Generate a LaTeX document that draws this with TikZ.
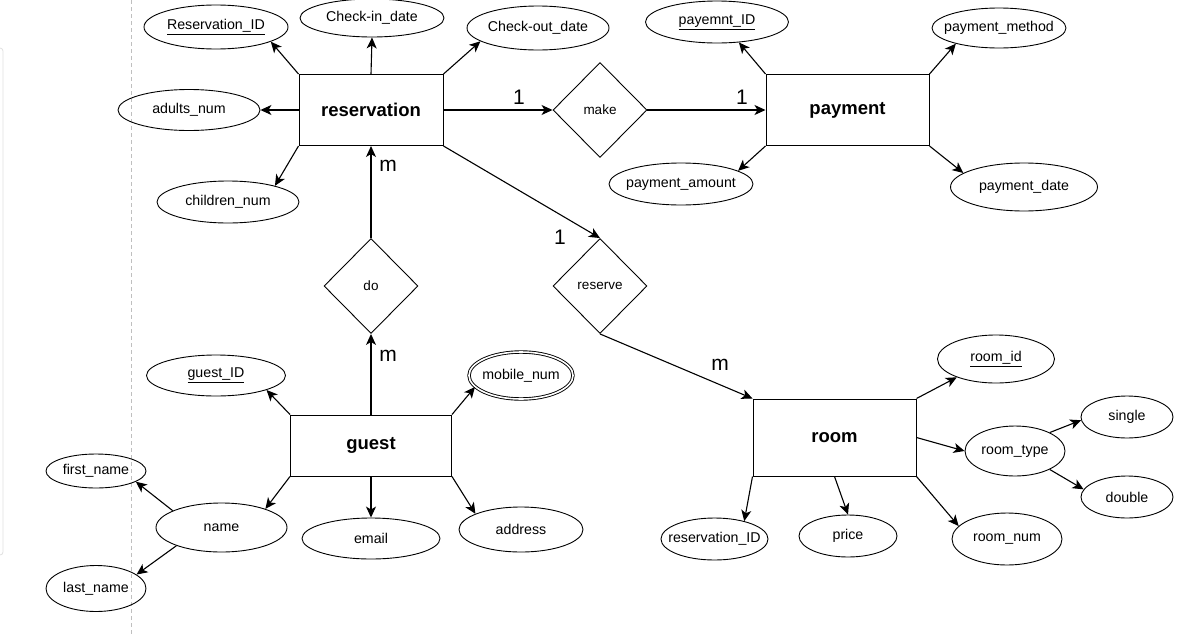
\documentclass[tikz,border=0pt]{standalone}
\usepackage{fontspec}
\setmainfont{Liberation Sans}
\usetikzlibrary{shapes.geometric,arrows.meta}
\begin{document}
\begin{tikzpicture}[x=1pt,y=-1pt,
 ent/.style={draw, line width=1pt, inner sep=0, font=\fontsize{18.5}{20}\selectfont\bfseries},
 attr/.style={ellipse, draw, line width=0.9pt, inner sep=0},
 lab/.style={font=\fontsize{14.2}{16}\selectfont},
 rel/.style={diamond, draw, line width=0.9pt, inner sep=0, minimum width=94pt, minimum height=95pt, font=\fontsize{13.5}{15}\selectfont},
 arr/.style={line width=1.1pt, -{Stealth[length=11pt,width=10pt,inset=3pt]}},
 card/.style={font=\fontsize{21}{24}\selectfont, inner sep=0}]
\useasboundingbox (0,0) rectangle (1178,635);
% background guides
\draw[gray!25, line width=0.8pt, rounded corners=3pt] (-10,48) -- (3,48) -- (3,555) -- (-10,555);
\draw[gray!50, line width=0.8pt, dash pattern=on 4pt off 3pt] (131,0) -- (131,635);
% entities
\node[ent, minimum width=144pt, minimum height=71pt] (res) at (371,110) {reservation};
\node[ent, minimum width=163pt, minimum height=71pt] (pay) at (847.5,110) {payment};
\node[ent, minimum width=161pt, minimum height=61pt] (guest) at (371,445.5) {guest};
\node[ent, minimum width=163pt, minimum height=77pt] (room) at (834.5,437.5) {room};
% relationships
\node[rel] (make) at (600,110) {make};
\node[rel] (do) at (371,286) {do};
\node[rel] (reserve) at (600,286) {reserve};
% attributes
\node[attr, minimum width=144pt, minimum height=44pt, label={[lab]center:\underline{Reservation\_ID}}] (resid) at (216,27) {};
\node[attr, minimum width=144pt, minimum height=38pt, label={[lab]center:Check-in\_date}] (checkin) at (372,18) {};
\node[attr, minimum width=142pt, minimum height=44pt, label={[lab]center:Check-out\_date}] (checkout) at (538,28) {};
\node[attr, minimum width=142pt, minimum height=41pt, label={[lab]center:adults\_num}] (adults) at (189,110) {};
\node[attr, minimum width=142pt, minimum height=42pt, label={[lab]center:children\_num}] (children) at (228,202) {};
\node[attr, minimum width=143pt, minimum height=42pt, label={[lab]center:\underline{payemnt\_ID}}] (payid) at (717,22) {};
\node[attr, minimum width=134pt, minimum height=40pt, label={[lab]center:payment\_method}] (paymethod) at (999,28) {};
\node[attr, minimum width=144pt, minimum height=42pt, label={[lab]center:payment\_amount}] (payamount) at (681,184) {};
\node[attr, minimum width=147pt, minimum height=48pt, label={[lab]center:payment\_date}] (paydate) at (1024,187) {};
\node[attr, minimum width=139pt, minimum height=41pt, label={[lab]center:\underline{guest\_ID}}] (guestid) at (216,375.5) {};
\node[attr, minimum width=104pt, minimum height=47pt, double, double distance=1.6pt, label={[lab]center:mobile\_num}] (mobile) at (521,375.5) {};
\node[attr, minimum width=100pt, minimum height=34pt, label={[lab]center:first\_name}] (firstn) at (96,471) {};
\node[attr, minimum width=131pt, minimum height=49pt, label={[lab]center:name}] (name) at (221.5,527.5) {};
\node[attr, minimum width=100pt, minimum height=46pt, label={[lab]center:last\_name}] (lastn) at (96,588.5) {};
\node[attr, minimum width=138pt, minimum height=41pt, label={[lab]center:email}] (email) at (371,538.5) {};
\node[attr, minimum width=124pt, minimum height=45pt, label={[lab]center:address}] (address) at (521,529.5) {};
\node[attr, minimum width=117pt, minimum height=48pt, label={[lab]center:\underline{room\_id}}] (roomid) at (996,359) {};
\node[attr, minimum width=92pt, minimum height=42pt, label={[lab]center:single}] (single) at (1127,417) {};
\node[attr, minimum width=100pt, minimum height=50pt, label={[lab]center:room\_type}] (roomtype) at (1015,451) {};
\node[attr, minimum width=92pt, minimum height=42pt, label={[lab]center:double}] (double) at (1127,497) {};
\node[attr, minimum width=107pt, minimum height=42pt, label={[lab]center:reservation\_ID}] (rresid) at (714.5,539) {};
\node[attr, minimum width=98pt, minimum height=42pt, label={[lab]center:price}] (price) at (848,536) {};
\node[attr, minimum width=110pt, minimum height=52pt, label={[lab]center:room\_num}] (roomnum) at (1007,539) {};
% reservation attributes
\draw[arr] (res.north west) -- (resid.-15);
\draw[arr] (res.north) -- (checkin.south);
\draw[arr] (res.north east) -- (checkout.-167);
\draw[arr] (res.west) -- (adults.east);
\draw[arr] (res.south west) -- (children.19);
% payment attributes
\draw[arr] (pay.north west) -- (payid.-43);
\draw[arr] (pay.north east) -- (paymethod.-160);
\draw[arr] (pay.south west) -- (payamount.13);
\draw[arr] (pay.south east) -- (paydate.167);
% relationships
\draw[arr] (res.east) -- (make.west);
\draw[arr] (make.east) -- (pay.west);
\draw[arr] (res.south east) -- (reserve.north);
\draw[arr] (reserve.south) -- (room.north west);
\draw[arr] (do.north) -- (res.south);
\draw[arr] (guest.north) -- (do.south);
% cardinalities
\node[card] (c1) at (519,97) {1};
\node[card] (c2) at (742,97) {1};
\node[card] (c3) at (388,166) {m};
\node[card] (c4) at (388,356) {m};
\node[card] (c5) at (560,237) {1};
\node[card] (c6) at (720,365) {m};
% guest attributes
\draw[arr] (guest.north west) -- (guestid.-16);
\draw[arr] (guest.north east) -- (mobile.-166);
\draw[arr] (guest.south west) -- (name.23);
\draw[arr] (guest.south) -- (email.north);
\draw[arr] (guest.south east) -- (address.161);
\draw[arr] (name.161) -- (firstn.-15);
\draw[arr] (name.-158) -- (lastn.19.5);
% room attributes
\draw[arr] (room.north east) -- (roomid.-155);
\draw[arr] (room.east) -- (roomtype.west);
\draw[arr] (roomtype.28) -- (single.-176);
\draw[arr] (roomtype.-28) -- (double.170);
\draw[arr] (room.south west) -- (rresid.31);
\draw[arr] (room.south) -- (price.north);
\draw[arr] (room.south east) -- (roomnum.165);
\end{tikzpicture}
\end{document}
